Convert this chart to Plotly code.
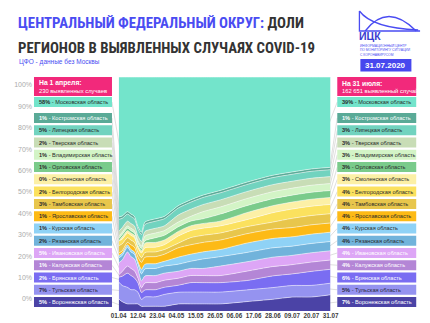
import plotly.graph_objects as go

W, H = 430, 323

# ---- data -------------------------------------------------------------
dates = ["2020-04-01", "2020-04-03", "2020-04-06", "2020-04-08", "2020-04-10",
         "2020-04-12", "2020-04-14", "2020-04-16", "2020-04-22", "2020-04-27",
         "2020-05-05", "2020-05-12", "2020-05-19", "2020-05-29", "2020-06-13",
         "2020-06-28", "2020-07-09", "2020-07-20", "2020-07-31"]

# share of each region in the district's detected cases, %
moscow    = [58, 60, 57, 58, 59, 64, 67, 62, 60, 59, 55, 52, 50, 48, 45, 42, 41, 39.5, 39]
kostroma  = [1, 1, 1, 1, 1, 1, 1, 1, 1, 1, 1, 1, 1, 1, 1, 1, 1, 1, 1]
lipetsk   = [5, 4, 3, 3, 3, 3, 3, 3, 3, 3, 3, 3, 3, 3, 3, 3, 3, 3, 3]
tver      = [2, 2, 2, 2, 2, 2, 2, 2, 2, 2, 3, 3, 3, 3, 3, 3, 3, 3, 3]
vladimir  = [1, 1, 1, 1, 1, 1, 1, 2, 2, 2, 2, 2, 3, 3, 3, 3, 3, 3, 3]
orel      = [1, 1, 1, 1, 1, 1, 1, 1, 2, 2, 2, 2, 2, 3, 3, 3, 3, 3, 3]
smolensk  = [0, 1, 1, 1, 1, 1, 1, 2, 2, 2, 2, 2, 2, 2, 3, 3, 3, 3, 3]
belgorod  = [2, 2, 2, 2, 2, 2, 2, 2, 2, 2, 3, 3, 3, 3, 3, 4, 4, 4, 4]
tambov    = [3, 3, 2, 2, 2, 2, 2, 2, 2, 2, 2, 3, 3, 3, 3, 3, 4, 4, 4]
yaroslavl = [1, 1, 1, 2, 2, 2, 3, 3, 3, 3, 4, 4, 4, 4, 4, 4, 4, 4, 4]
kursk     = [1, 1, 1, 1, 1, 1, 2, 2, 2, 2, 3, 3, 3, 3, 4, 4, 4, 4, 4]
ryazan    = [2, 2, 2, 2, 2, 2, 3, 3, 3, 3, 3, 3, 4, 4, 4, 4, 4, 4, 4]
ivanovo   = [5, 5, 6, 5, 5, 4, 3, 3, 3, 3, 3, 3, 3, 4, 4, 4, 4, 4, 4]
kaluga    = [1, 2, 3, 3, 3, 2, 2, 3, 3, 3, 3, 3, 3, 3, 4, 4, 4, 4, 4]
bryansk   = [2, 4, 6, 6, 5, 4, 3, 3, 3, 3, 3, 4, 4, 4, 4, 5, 5, 6, 6]
tula      = [7, 7, 7, 6, 6, 5, 3, 4, 4, 5, 5, 5, 5, 5, 5, 5, 5, 5, 5]
voronezh  = [5, 4, 3, 3, 3, 3, 2, 2, 2, 2, 3, 3, 3, 3, 4, 5, 6, 6, 7]

cases_start = 230
cases_end = 162651
y_ticks = [0, 10, 20, 30, 40, 50, 60, 70, 80, 90, 100]

# stacking order: bottom layer first
layers = [
    ("Воронежская область", voronezh, "#4B43A6", "white"),
    ("Тульская область", tula, "#9593F0", "#2a2a40"),
    ("Брянская область", bryansk, "#7A6DF2", "white"),
    ("Калужская область", kaluga, "#B486D6", "white"),
    ("Ивановская область", ivanovo, "#DDA6F6", "white"),
    ("Рязанская область", ryazan, "#71B3DB", "#2a2a2a"),
    ("Курская область", kursk, "#8FD2F6", "#2a2a2a"),
    ("Ярославская область", yaroslavl, "#FDBA16", "#2a2a2a"),
    ("Тамбовская область", tambov, "#E8C64C", "#2a2a2a"),
    ("Белгородская область", belgorod, "#FBE15E", "#2a2a2a"),
    ("Смоленская область", smolensk, "#FCF0A6", "#2a2a2a"),
    ("Орловская область", orel, "#7ACB8B", "#2a2a2a"),
    ("Владимирская область", vladimir, "#D3F4C6", "#2a2a2a"),
    ("Тверская область", tver, "#C8DDB6", "#2a2a2a"),
    ("Липецкая область", lipetsk, "#71D3BF", "#2a2a2a"),
    ("Костромская область", kostroma, "#5AAA97", "white"),
    ("Московская область", moscow, "#73E4CB", "#2a2a2a"),
]

# ---- geometry helpers (pixel -> paper) ---------------------------------
def px(x):
    return x / W


def py(y):
    return 1 - y / H


X0, X1 = 115, 335          # plot area, px
Y0, Y1 = 77, 311
BLUE = "#4A4CF2"
PINK = "#F2297B"
DARK = "#333333"
FONT = "Liberation Sans, Arial, sans-serif"
TITLE_FONT = "Roboto Condensed, DejaVu Sans, sans-serif"

fig = go.Figure()

for name, vals, color, _ in layers:
    fig.add_trace(go.Scatter(
        x=dates, y=vals, name=name, stackgroup="share", groupnorm="percent",
        mode="lines", fillcolor=color,
        line=dict(width=0.6, color="rgba(255,255,255,0.85)", shape="spline", smoothing=0.7),
        hoverinfo="skip", showlegend=False,
    ))

# carrier for the percent scale drawn at the left margin
fig.add_trace(go.Scatter(x=[dates[0]], y=[None], yaxis="y2", showlegend=False,
                         hoverinfo="skip", mode="lines"))

annotations = []
shapes = []


def text(x, y, s, size, color, xanchor="left", yanchor="middle", bold=False, family=FONT):
    annotations.append(dict(
        x=px(x), y=py(y), xref="paper", yref="paper", text=s, showarrow=False,
        xanchor=xanchor, yanchor=yanchor, align="left", borderpad=0,
        font=dict(size=size, color=color, family=family, weight="bold" if bold else "normal"),
    ))


def rect(x0, y0, x1, y1, color):
    shapes.append(dict(type="rect", xref="paper", yref="paper",
                       x0=px(x0), x1=px(x1), y0=py(y1), y1=py(y0),
                       fillcolor=color, line=dict(width=0), layer="above"))


def line(xa, ya, xb, yb, color="#c9c9c9", width=0.6):
    shapes.append(dict(type="line", xref="paper", yref="paper",
                       x0=px(xa), y0=py(ya), x1=px(xb), y1=py(yb),
                       line=dict(color=color, width=width), layer="below"))


# ---- title -------------------------------------------------------------
text(9, 23.5,
     f"<span style='color:{BLUE}'>ЦЕНТРАЛЬНЫЙ ФЕДЕРАЛЬНЫЙ ОКРУГ:</span> ДОЛИ",
     14.8, DARK, bold=True, family=TITLE_FONT)
text(9, 47.5, "РЕГИОНОВ В ВЫЯВЛЕННЫХ СЛУЧАЯХ COVID-19",
     14.8, DARK, bold=True, family=TITLE_FONT)
text(10, 62, "ЦФО - данные без Москвы", 6.5, BLUE)

# ---- logo --------------------------------------------------------------
def path(tokens):
    out = []
    for tok in tokens:
        if isinstance(tok, str):
            out.append(tok)
        else:
            out.append(f"{px(tok[0]):.5f},{py(tok[1]):.5f}")
    return " ".join(out)


logo_style = dict(type="path", xref="paper", yref="paper",
                  line=dict(color=BLUE, width=1.3), layer="above")
shapes.append(dict(path=path(["M", (365, 11), "L", (365, 31), "L", (428, 31)]), **logo_style))
shapes.append(dict(path=path(["M", (365, 11), "Q", (378, 28), (426, 30)]), **logo_style))
shapes.append(dict(path=path(["M", (371, 31), "Q", (394, 2), (424, 31)]), **logo_style))
text(364, 36.5, "<b>ИЦК</b>", 10.5, "#3A3CD0")
text(365, 43.2, "ИНФОРМАЦИОННЫЙ ЦЕНТР<br>ПО МОНИТОРИНГУ СИТУАЦИИ<br>С КОРОНАВИРУСОМ",
     3.3, BLUE, yanchor="top")
rect(366, 59, 419, 71.5, "#4747EE")
text(392.5, 65.5, "31.07.2020", 8, "white", xanchor="center", bold=True)

# ---- side panels -------------------------------------------------------
rect(27, 77, 108, 96, PINK)
text(31, 83, "На 1 апреля:", 6.8, "white", bold=True)
text(31, 90.5, f"{cases_start} выявленных случаев", 5.8, "white")

rect(342, 77, 424, 96, PINK)
text(346, 83, "На 31 июля:", 6.8, "white", bold=True)
text(346, 90.5, f"{cases_end:,}".replace(",", " ") + " выявленный случай", 5.8, "white")

tot_first = sum(v[0] for _, v, _, _ in layers)
tot_last = sum(v[-1] for _, v, _, _ in layers)
span = Y1 - Y0

cum_first = 0.0
cum_last = 0.0
n = len(layers)
for k, (name, vals, color, tcolor) in enumerate(layers):
    row = n - 1 - k                         # 0 = top box
    cy = 102 if row == 0 else 118 + (row - 1) * 12.27

    f_mid = (cum_first + vals[0] / 2) / tot_first
    l_mid = (cum_last + vals[-1] / 2) / tot_last
    cum_first += vals[0]
    cum_last += vals[-1]

    rect(27, cy - 5, 108, cy + 5, color)
    text(31, cy, f"<b>{vals[0]:.0f}%</b> - {name}", 5.6, tcolor)
    line(108, cy, X0 + 1, Y1 - f_mid * span)

    rect(342, cy - 5, 424, cy + 5, color)
    text(346, cy, f"<b>{vals[-1]:.0f}%</b> - {name}", 5.6, tcolor)
    line(X1 - 1, Y1 - l_mid * span, 342, cy)

# percent scale: 0% at y=299 px, 100% at y=85 px
unit = (299 - 85) / 100
y2_lo = 0 - (Y1 - 299) / unit
y2_hi = 100 + (85 - Y0) / unit

fig.update_layout(
    width=W, height=H,
    margin=dict(l=0, r=0, t=0, b=0),
    paper_bgcolor="white", plot_bgcolor="white",
    xaxis=dict(domain=[px(X0), px(X1)], type="date",
               range=[dates[0], dates[-1]], tickformat="%d.%m",
               tick0=dates[0], dtick=11 * 86400000,
               showgrid=False, zeroline=False, showline=False, ticks="",
               tickfont=dict(size=6.3, color="#3c3c3c", family=FONT, weight="bold")),
    yaxis=dict(domain=[py(Y1), py(Y0)], range=[0, 100], showgrid=False,
               zeroline=False, showline=False, showticklabels=False, ticks=""),
    yaxis2=dict(overlaying="y", anchor="free", position=px(25), side="left",
                range=[y2_lo, y2_hi], tickmode="array", tickvals=y_ticks,
                ticktext=[f"{v}%" for v in y_ticks],
                showgrid=False, zeroline=False, showline=False, ticks="",
                tickfont=dict(size=7, color="#ababab", family=FONT)),
    annotations=annotations,
    shapes=shapes,
)

fig.write_html("out.html")
